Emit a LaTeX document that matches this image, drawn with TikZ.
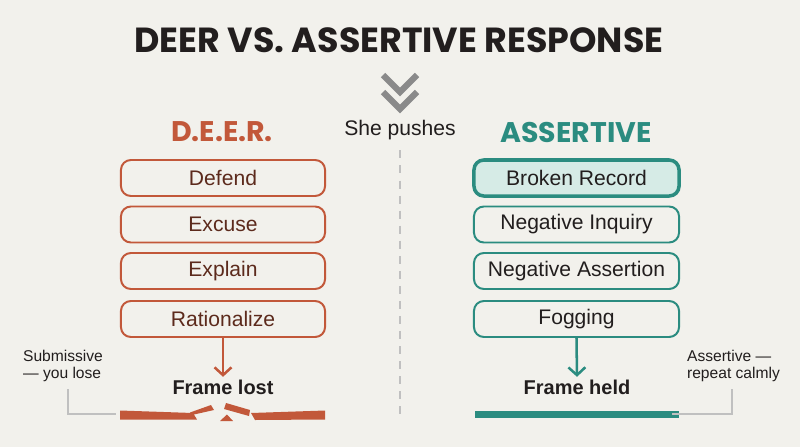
\documentclass[tikz,border=0pt]{standalone}
\usepackage{fontspec}
\setmainfont{Liberation Sans}
\newfontfamily\headfont{Poppins}
\usetikzlibrary{arrows.meta,positioning}
\definecolor{bgpaper}{RGB}{242,241,236}
\definecolor{deerorange}{RGB}{194,88,58}
\definecolor{deerbrown}{RGB}{92,42,28}
\definecolor{asrtteal}{RGB}{43,140,128}
\definecolor{asrtfill}{RGB}{214,235,230}
\definecolor{inkdark}{RGB}{34,30,30}
\definecolor{chevgray}{RGB}{138,138,138}
\definecolor{rulegray}{RGB}{192,192,192}

\begin{document}
\begin{tikzpicture}[x=0.025cm,y=-0.025cm,
  deercard/.style={draw=deerorange,line width=1.4pt,rounded corners=7pt,fill=bgpaper,
    minimum width=5.1cm,minimum height=0.9cm,font=\fontsize{15}{18}\selectfont,text=deerbrown},
  asrtcard/.style={draw=asrtteal,line width=1.4pt,rounded corners=7pt,fill=bgpaper,
    minimum width=5.125cm,minimum height=0.9cm,font=\fontsize{15}{18}\selectfont,text=inkdark},
  outcome/.style={font=\fontsize{14.2}{17}\selectfont\bfseries,text=inkdark},
  sidenote/.style={font=\fontsize{11.1}{13}\selectfont,text=inkdark,align=left},
  pointer/.style={rulegray,line width=0.8pt}
]
  \useasboundingbox[fill=bgpaper] (0,0) rectangle (800,447);

  % Title
  \node[font=\headfont\fontsize{24.8}{28}\selectfont\bfseries,text=inkdark] (title) at (399,40) {DEER VS. ASSERTIVE RESPONSE};

  % Double chevron and trigger
  \draw[chevgray,line width=4.3pt] (383,75) -- (400,92) -- (417,75);
  \draw[chevgray,line width=4.3pt] (383,92) -- (400,109) -- (417,92);
  \node[font=\fontsize{15}{18}\selectfont,text=inkdark] (pushes) at (400,130) {She pushes};
  \coordinate (divend) at (400,418);
  \draw[rulegray,line width=1.4pt,dash pattern=on 5.7pt off 5pt] ([yshift=-4pt]pushes.south) -- (divend);

  % Column headings
  \node[font=\headfont\fontsize{20.2}{24}\selectfont\bfseries,text=deerorange] (deerhead) at (222,132) {D.E.E.R.};
  \node[font=\headfont\fontsize{20.2}{24}\selectfont\bfseries,text=asrtteal] (asrthead) at (576,132) {ASSERTIVE};

  % Left column
  \node[deercard] (deer1) at (223,178) {Defend};
  \node[deercard] (deer2) at (223,224.5) {Excuse};
  \node[deercard] (deer3) at (223,271) {Explain};
  \node[deercard] (deer4) at (223,319) {Rationalize};

  % Right column
  \node[asrtcard,fill=asrtfill,line width=2.5pt] (asrt1) at (576.5,178) {Broken Record};
  \node[asrtcard] (asrt2) at (576.5,224.5) {Negative Inquiry};
  \node[asrtcard] (asrt3) at (576.5,271) {Negative Assertion};
  \node[asrtcard] (asrt4) at (576.5,319) {Fogging};

  % Outcomes
  \node[outcome] (lost) at (223,387) {Frame lost};
  \node[outcome] (held) at (577,387) {Frame held};
  \draw[deerorange,line width=1.8pt,-{Straight Barb[length=5.5pt,width=12pt]}] (deer4.south) -- ([yshift=-1.5pt]lost.north);
  \draw[asrtteal,line width=1.8pt,-{Straight Barb[length=5.5pt,width=12pt]}] (asrt4.south) -- ([yshift=-1.5pt]held.north);

  % Broken bar
  \fill[deerorange] (120,410.5) -- (193,413) -- (197,419.5) -- (120,419.5) -- cycle;
  \fill[deerorange] (190,412.5) -- (211,405) -- (214,410) -- (194,414.5) -- cycle;
  \fill[deerorange] (226,403) -- (250,410) -- (249,416) -- (224,409) -- cycle;
  \fill[deerorange] (220,421) -- (227,414.5) -- (233,421) -- cycle;
  \fill[deerorange] (251,413) -- (325,410.5) -- (325,419.5) -- (255,420) -- cycle;
  \coordinate (lostbar) at (116,414);

  % Solid bar
  \node[fill=asrtteal,inner sep=0pt,minimum width=5.1cm,minimum height=0.175cm] (heldbar) at (577,414) {};

  % Side notes
  \node[sidenote] (subnote) at (63,366) {Submissive\\[-1pt]— you lose};
  \node[sidenote] (asrtnote) at (733.5,366) {Assertive —\\[-1pt]repeat calmly};
  \coordinate (subtip) at (68,389);
  \coordinate (asrttip) at (732,389);
  \draw[pointer] (subtip) |- (lostbar);
  \draw[pointer] (asrttip) |- ([xshift=-5pt]heldbar.east);
\end{tikzpicture}
\end{document}
